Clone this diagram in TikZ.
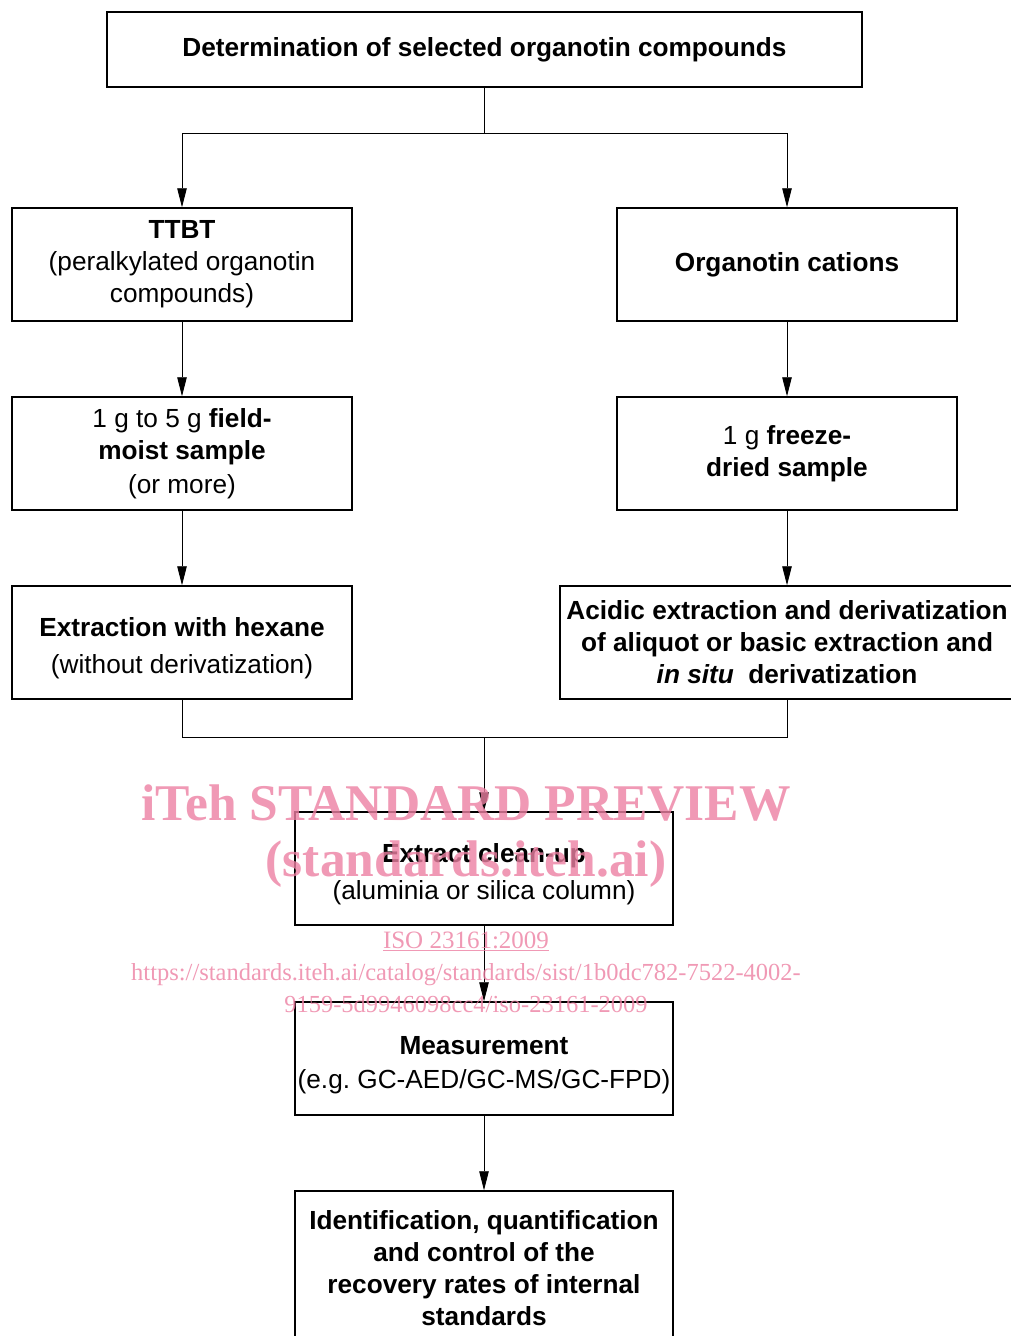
\documentclass[tikz,border=0pt]{standalone}
\usepackage{fontspec}
\setmainfont{Liberation Sans}
\newfontfamily\wmfont{Liberation Serif}
\usetikzlibrary{arrows.meta}
\definecolor{wmpink}{RGB}{236,128,162}
\newcommand{\lowstrut}{\rule{0pt}{31pt}}
\begin{document}
\begin{tikzpicture}[x=1pt,y=-1pt,align=center,
    box/.style={draw,line width=1.5pt,inner sep=0pt,minimum height=113pt,
      font=\fontsize{26.2}{32}\selectfont},
    link/.style={line width=0.9pt},
    arr/.style={link,-{Triangle[length=19pt,width=9.5pt]}},
    wm/.style={text=wmpink,text opacity=0.8,font=\wmfont}]
    \useasboundingbox (0,0) rectangle (1010,1336);
    % boxes
    \node[box,minimum width=755pt,minimum height=75pt](n00) at (484.5,49.5) {\textbf{Determination of selected organotin compounds}};
    \node[box,minimum width=340pt](n11) at (182,264.5) {\textbf{TTBT}\\(peralkylated organotin\\compounds)};
    \node[box,minimum width=340pt](n12) at (787,264.5) {\textbf{Organotin cations}};
    \node[box,minimum width=340pt](n21) at (182,453.5) {1 g to 5 g \textbf{field-}\\\textbf{moist sample}\\[2pt](or more)};
    \node[box,minimum width=340pt](n22) at (787,453.5) {1 g \textbf{freeze-}\\\textbf{dried sample}};
    \node[box,minimum width=340pt](n31) at (182,642.5) {\lowstrut\textbf{Extraction with hexane}\\[5pt](without derivatization)};
    \node[box,minimum width=454pt](n32) at (787,642.5) {\textbf{Acidic extraction and derivatization}\\\textbf{of aliquot or basic extraction and}\\\textbf{\textit{in situ}\ \ derivatization}};
    \node[box,minimum width=378pt](n40) at (484,868.5) {\lowstrut\textbf{Extract clean-up}\\[5pt](aluminia or silica column)};
    \node[box,minimum width=378pt](n50) at (484,1058.5) {\lowstrut\textbf{Measurement}\\[2pt](e.g.\ GC-AED/GC-MS/GC-FPD)};
    \node[box,minimum width=378pt,minimum height=154pt](n60) at (484,1268) {\textbf{Identification, quantification}\\\textbf{and control of the}\\\textbf{recovery rates of internal}\\\textbf{standards}};
    % branch and join points
    \coordinate(s0) at (484.5,133);
    \coordinate(j3) at (484,737);
    \draw[link](n00) -- (s0);
    \draw[arr](s0) -| (n11.north);
    \draw[arr](s0) -| (n12.north);
    \draw[arr](n11) -- (n21);
    \draw[arr](n12) -- (n22);
    \draw[arr](n21) -- (n31);
    \draw[arr](n22) -- (n32);
    \draw[link](n31.south) |- (j3);
    \draw[link](n32.south) |- (j3);
    \draw[arr](j3) -- (n40);
    \draw[arr](n40) -- (n50);
    \draw[arr](n50) -- (n60);
    % watermark
    \node[wm,font=\wmfont\bfseries\fontsize{51.5}{50}\selectfont](w1) at (466,803) {iTeh STANDARD PREVIEW};
    \node[wm,font=\wmfont\bfseries\fontsize{51.5}{50}\selectfont](w2) at (466,864) {(standards.iteh.ai)};
    \node[wm,font=\wmfont\fontsize{25}{25}\selectfont](w3) at (466,941) {\underline{ISO 23161:2009}};
    \node[wm,font=\wmfont\fontsize{24.5}{32}\selectfont](w4) at (466,988) {https://standards.iteh.ai/catalog/standards/sist/1b0dc782-7522-4002-\\9159-5d9946098cc4/iso-23161-2009};
\end{tikzpicture}
\end{document}
